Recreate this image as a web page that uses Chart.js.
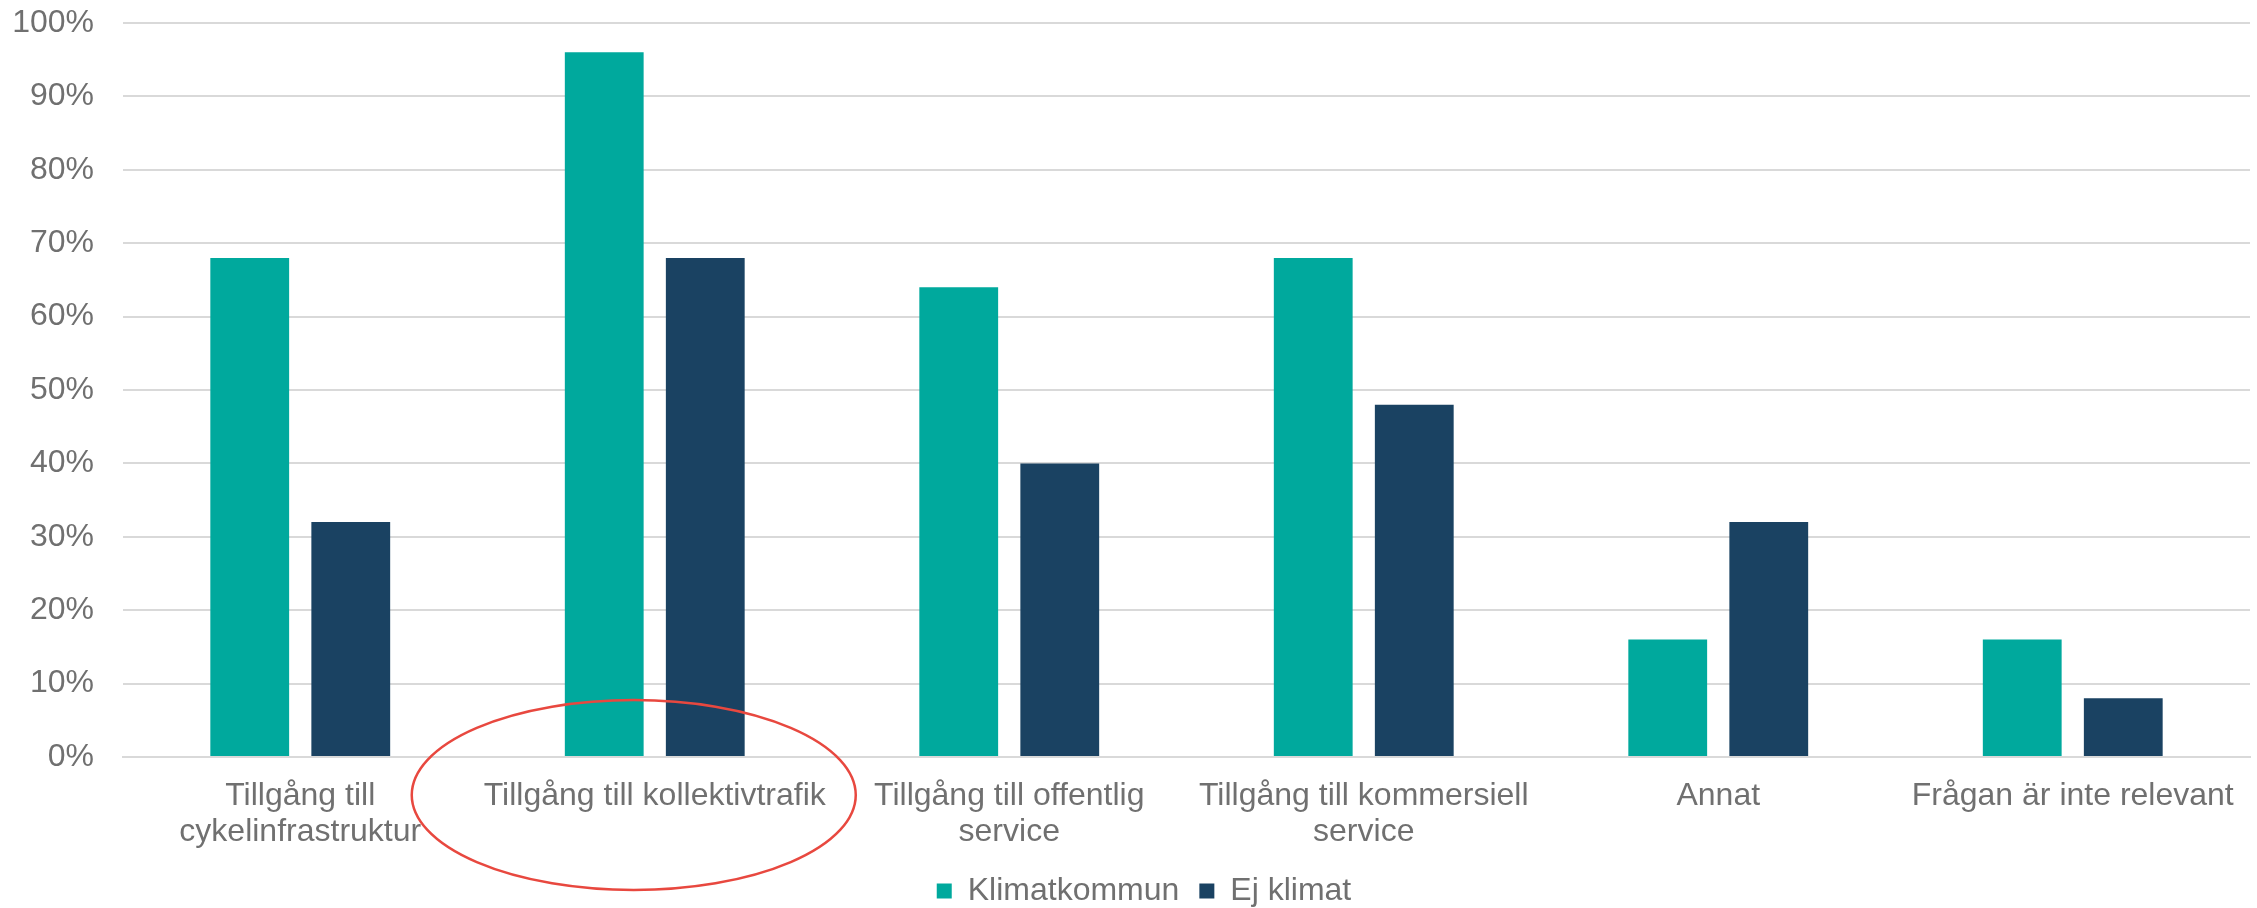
<!DOCTYPE html>
<html>
<head>
<meta charset="utf-8">
<script src="https://cdn.jsdelivr.net/npm/chart.js@4/dist/chart.umd.min.js"></script>
<style>
  html,body{margin:0;padding:0;background:#fff}
  #wrap{width:2257px;height:908px;position:relative}
</style>
</head>
<body>
<div id="wrap"><canvas id="chart"></canvas></div>
<script>
// data
const categories=[
    ['Tillgång till','cykelinfrastruktur'],
    'Tillgång till kollektivtrafik',
    ['Tillgång till offentlig','service'],
    ['Tillgång till kommersiell','service'],
    'Annat',
    'Frågan är inte relevant'
]
const klimatkommun=[68,96,64,68,16,16]
const ejKlimat=[32,68,40,48,32,8]
const yTicks=[0,10,20,30,40,50,60,70,80,90,100]

const textColor='#707070'
const gridColor='#d9d9d9'
Chart.defaults.font.family='"Liberation Sans", Arial, sans-serif'

// the red ring drawn round the second category label
const ringNote={
    id:'ringNote',
    beforeUpdate(chart){
        // keep the legend box short so the plot gets the height
        const lg=chart.legend
        if(lg && !lg.patched){
            const fit=lg.fit.bind(lg)
            lg.fit=function(){
                fit()
                this.height=53
            }
            lg.patched=true
        }
    },
    afterLayout(chart){
        // legend sits a little right of centre in the original
        const lg=chart.legend
        if(lg){
            lg.left+=19
            lg.right+=19
        }
    },
    afterDraw(chart){
        const x=chart.scales.x
        const ctx=chart.ctx
        const cx=x.getPixelForValue(1)-21
        const cy=chart.chartArea.bottom+38
        ctx.save()
        ctx.strokeStyle='#e8483f'
        ctx.lineWidth=2.5
        ctx.beginPath()
        ctx.ellipse(cx,cy,222,95,0,0,Math.PI*2)
        ctx.stroke()
        ctx.restore()
    }
}

const ctx=document.getElementById('chart')
new Chart(ctx,{
    type:'bar',
    data:{
        labels:categories,
        datasets:[{
            label:'Klimatkommun',
            data:klimatkommun,
            backgroundColor:'#00a99d',
            categoryPercentage:0.57,
            barPercentage:0.78
        },{
            label:'Ej klimat',
            data:ejKlimat,
            backgroundColor:'#1a4262',
            categoryPercentage:0.57,
            barPercentage:0.78
        }]
    },
    options:{
        responsive:true,
        maintainAspectRatio:false,
        animation:false,
        layout:{padding:{top:23,right:7,left:0,bottom:0}},
        plugins:{
            tooltip:{enabled:false},
            legend:{
                position:'bottom',
                labels:{
                    color:textColor,
                    font:{size:32},
                    boxWidth:15,
                    boxHeight:15,
                    padding:20
                }
            }
        },
        scales:{
            x:{
                grid:{display:false},
                border:{color:gridColor,width:2},
                ticks:{
                    color:textColor,
                    font:{size:32,lineHeight:1.13},
                    padding:13,
                    maxRotation:0,
                    autoSkip:false
                },
                afterFit(scale){
                    scale.height=98
                    scale.paddingLeft=0
                    scale.paddingRight=0
                }
            },
            y:{
                min:0,
                max:100,
                afterBuildTicks(scale){scale.ticks=yTicks.map(v=>({value:v}))},
                grid:{color:gridColor,lineWidth:2,drawTicks:false},
                border:{display:false},
                ticks:{
                    color:textColor,
                    font:{size:32},
                    padding:29,
                    callback:v=>v+'%'
                },
                afterFit(scale){
                    scale.width=123
                    scale.paddingTop=0
                    scale.paddingBottom=0
                }
            }
        }
    },
    plugins:[ringNote]
})
</script>
</body>
</html>
